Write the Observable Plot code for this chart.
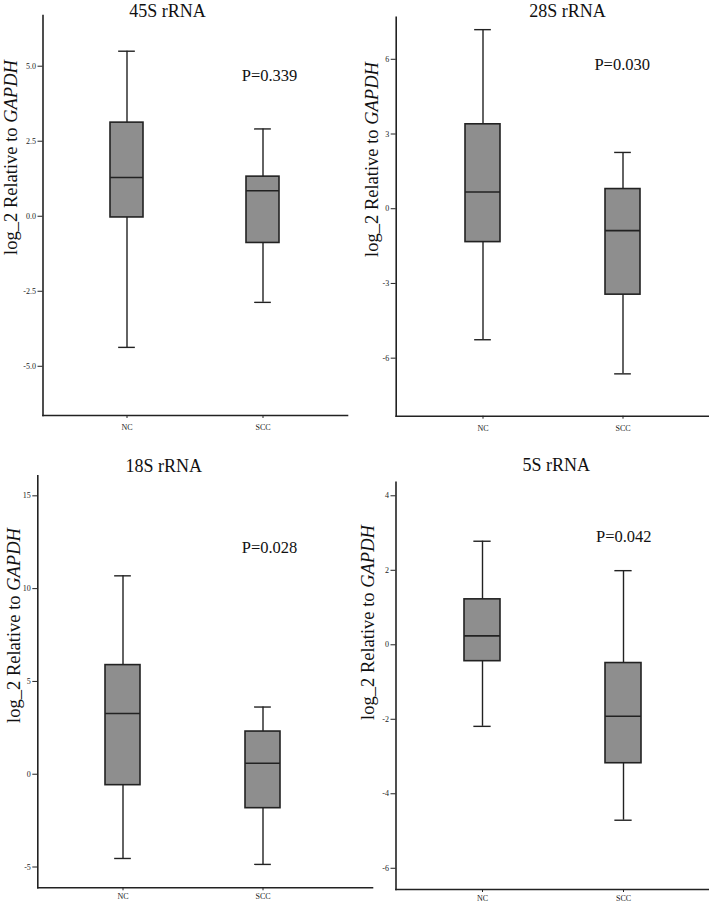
<!DOCTYPE html>
<html>
<head>
<meta charset="utf-8">
<script src="https://cdn.jsdelivr.net/npm/d3@7"></script>
<script src="https://cdn.jsdelivr.net/npm/@observablehq/plot@0.6"></script>
<style>
  body { margin: 0; background: #ffffff; }
  #wrap { position: relative; width: 709px; height: 902px; overflow: hidden; background: #ffffff; }
  .panel { position: absolute; }
</style>
</head>
<body>
<div id="wrap"></div>
<script>
// ---------------- data ----------------
const groups = ["NC", "SCC"];
const titles = ["45S rRNA", "28S rRNA", "18S rRNA", "5S rRNA"];
const pLabels = ["P=0.339", "P=0.030", "P=0.028", "P=0.042"];
const yLabelText = "log_2 Relative to GAPDH";
const yLabelItalic = "GAPDH";

// 45S rRNA
const low45 = [-4.37, -2.87];
const q1_45 = [-0.04, -0.89];
const med45 = [1.29, 0.85];
const q3_45 = [3.12, 1.32];
const high45 = [5.50, 2.91];
const ticks45 = [-5, -2.5, 0, 2.5, 5];

// 28S rRNA
const low28 = [-5.26, -6.63];
const q1_28 = [-1.34, -3.45];
const med28 = [0.67, -0.88];
const q3_28 = [3.39, 0.79];
const high28 = [7.19, 2.26];
const ticks28 = [-6, -3, 0, 3, 6];

// 18S rRNA
const low18 = [-4.54, -4.86];
const q1_18 = [-0.59, -1.83];
const med18 = [3.27, 0.59];
const q3_18 = [5.88, 2.30];
const high18 = [10.69, 3.62];
const ticks18 = [-5, 0, 5, 10, 15];

// 5S rRNA
const low5 = [-2.19, -4.71];
const q1_5 = [-0.44, -3.18];
const med5 = [0.24, -1.92];
const q3_5 = [1.22, -0.49];
const high5 = [2.78, 1.99];
const ticks5 = [-6, -4, -2, 0, 2, 4];

// ---------------- layout ----------------
const panels = [
  {title: titles[0], p: pLabels[0], low: low45, q1: q1_45, med: med45, q3: q3_45, high: high45, ticks: ticks45,
   fmt: d => d.toFixed(1), domain: [-6.64, 6.69],
   left: 0, top: 0, width: 354, height: 451,
   mT: 15, mB: 36, mL: 42.5, mR: 7, xPad: 6,
   pi: 0.756, po: 0.492, align: 0.5, bw: 33.3,
   titlePos: [167, 10.5], yLabPos: [10.5, 157], pPos: [269, 75]},
  {title: titles[1], p: pLabels[1], low: low28, q1: q1_28, med: med28, q3: q3_28, high: high28, ticks: ticks28,
   fmt: d => String(d), domain: [-8.33, 7.69],
   left: 354, top: 0, width: 355, height: 451,
   mT: 16.7, mB: 35.3, mL: 41.7, mR: 0, xPad: 6,
   pi: 0.749, po: 0.489, align: 0.5, bw: 35.3,
   titlePos: [213, 10.5], yLabPos: [17.3, 159], pPos: [267.7, 64]},
  {title: titles[2], p: pLabels[2], low: low18, q1: q1_18, med: med18, q3: q3_18, high: high18, ticks: ticks18,
   fmt: d => String(d), domain: [-6.12, 16.08],
   left: 0, top: 451, width: 372, height: 451,
   mT: 24.3, mB: 14.7, mL: 37.3, mR: 0, xPad: 2.5,
   pi: 0.748, po: 0.569, align: 0.425, bw: 35.3,
   titlePos: [163.3, 14.5], yLabPos: [14, 174], pPos: [269, 96.7]},
  {title: titles[3], p: pLabels[3], low: low5, q1: q1_5, med: med5, q3: q3_5, high: high5, ticks: ticks5,
   fmt: d => String(d), domain: [-6.57, 4.365],
   left: 354, top: 451, width: 355, height: 451,
   mT: 30.7, mB: 13, mL: 41.5, mR: 0, xPad: 2.5,
   pi: 0.748, po: 0.480, align: 0.5, bw: 35.7,
   titlePos: [201.7, 14], yLabPos: [14, 171], pPos: [269.3, 85]}
];

const ink = "#222222";
const boxFill = "#8e8e8e";
const wrap = document.getElementById("wrap");

function at(P, pos) {
  return {frameAnchor: "top-left", dx: pos[0] - P.mL, dy: pos[1] - P.mT};
}

for (const P of panels) {
  const rows = groups.map((g, i) => ({
    group: g, low: P.low[i], q1: P.q1[i], med: P.med[i], q3: P.q3[i], high: P.high[i]
  }));
  const capInset = (P.bw - 17) / 2;

  const chart = Plot.plot({
    width: P.width,
    height: P.height,
    marginTop: P.mT,
    marginBottom: P.mB,
    marginLeft: P.mL,
    marginRight: P.mR,
    style: {fontFamily: "'Liberation Serif', 'Times New Roman', serif", fontSize: "8px", color: ink, background: "transparent", overflow: "visible"},
    x: {type: "band", domain: groups, paddingInner: P.pi, paddingOuter: P.po, align: P.align,
        tickSize: 3, tickPadding: P.xPad, label: null},
    y: {domain: P.domain, ticks: P.ticks, tickFormat: P.fmt, tickSize: 5, tickPadding: 2, label: null},
    marks: [
      Plot.ruleX(rows, {x: "group", y1: "low", y2: "high", stroke: ink, strokeWidth: 1.4}),
      Plot.tickY(rows, {x: "group", y: "low", stroke: ink, strokeWidth: 1.4, insetLeft: capInset, insetRight: capInset}),
      Plot.tickY(rows, {x: "group", y: "high", stroke: ink, strokeWidth: 1.4, insetLeft: capInset, insetRight: capInset}),
      Plot.barY(rows, {x: "group", y1: "q1", y2: "q3", fill: boxFill, stroke: ink, strokeWidth: 1.6}),
      Plot.tickY(rows, {x: "group", y: "med", stroke: ink, strokeWidth: 1.6}),
      Plot.frame({anchor: "left", stroke: ink, strokeWidth: 1.6}),
      Plot.frame({anchor: "bottom", stroke: ink, strokeWidth: 1.6}),
      Plot.text([P.title], {text: d => d, ...at(P, P.titlePos), fontSize: 18, fill: "#111", lineAnchor: "middle", textAnchor: "middle"}),
      Plot.text([P.p], {text: d => d, ...at(P, P.pPos), fontSize: 16.5, fill: "#111", lineAnchor: "middle", textAnchor: "middle"}),
      Plot.text([yLabelText], {text: d => d, ...at(P, P.yLabPos), rotate: -90, fontSize: 18.5, fill: "#111", lineAnchor: "middle", textAnchor: "middle"})
    ]
  });

  // italicise the gene name inside the y-axis label
  d3.select(chart).selectAll("text")
    .filter(function () { return this.textContent === yLabelText; })
    .each(function () {
      const t = d3.select(this);
      const head = yLabelText.slice(0, yLabelText.length - yLabelItalic.length);
      t.text(null);
      t.append("tspan").text(head);
      t.append("tspan").attr("font-style", "italic").text(yLabelItalic);
    });

  const div = document.createElement("div");
  div.className = "panel";
  div.style.left = P.left + "px";
  div.style.top = P.top + "px";
  div.appendChild(chart);
  wrap.appendChild(div);
}
</script>
</body>
</html>
